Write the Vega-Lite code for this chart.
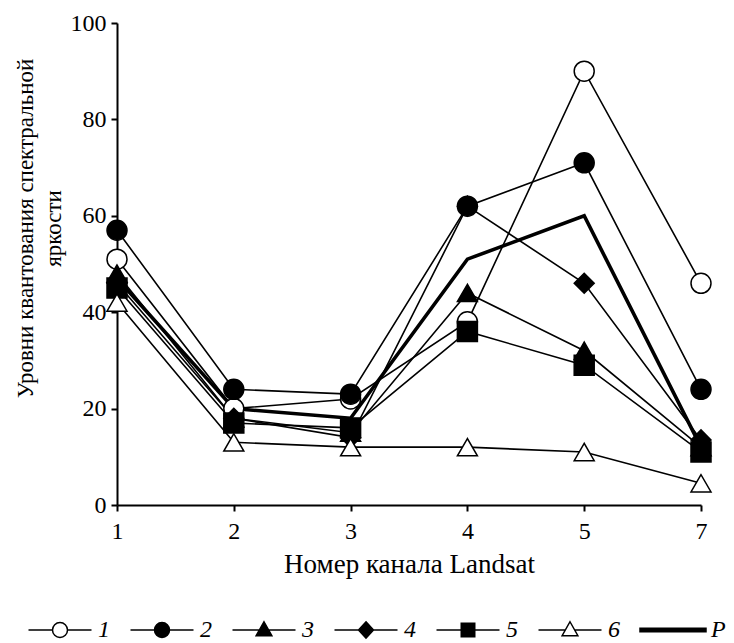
{
  "$schema": "https://vega.github.io/schema/vega-lite/v6.json",
  "width": 584,
  "height": 482,
  "autosize": {"type": "none"},
  "padding": {"left": 117, "top": 23, "right": 33, "bottom": 138},
  "background": "white",
  "config": {
    "view": {"stroke": null, "fill": null},
    "font": "Liberation Serif",
    "axis": {
      "domainColor": "black",
      "domainWidth": 2,
      "ticks": true,
      "tickColor": "black",
      "tickWidth": 2,
      "tickSize": 6,
      "grid": false,
      "labelFont": "Liberation Serif",
      "labelFontSize": 24,
      "labelColor": "black",
      "titleFont": "Liberation Serif",
      "titleFontSize": 23,
      "titleFontWeight": "normal",
      "titleColor": "black"
    },
    "legend": {
      "labelFont": "Liberation Serif",
      "labelFontSize": 24,
      "labelFontStyle": "italic",
      "labelColor": "black",
      "symbolSize": 225,
      "symbolStrokeWidth": 1.5,
      "symbolStrokeColor": "black"
    }
  },
  "data": {
    "values": [
      {"band": "1", "series": "1", "value": 51},
      {"band": "2", "series": "1", "value": 20},
      {"band": "3", "series": "1", "value": 22},
      {"band": "4", "series": "1", "value": 38},
      {"band": "5", "series": "1", "value": 90},
      {"band": "7", "series": "1", "value": 46},
      {"band": "1", "series": "2", "value": 57},
      {"band": "2", "series": "2", "value": 24},
      {"band": "3", "series": "2", "value": 23},
      {"band": "4", "series": "2", "value": 62},
      {"band": "5", "series": "2", "value": 71},
      {"band": "7", "series": "2", "value": 24},
      {"band": "1", "series": "3", "value": 48},
      {"band": "2", "series": "3", "value": 18},
      {"band": "3", "series": "3", "value": 15},
      {"band": "4", "series": "3", "value": 44},
      {"band": "5", "series": "3", "value": 32},
      {"band": "7", "series": "3", "value": 12},
      {"band": "1", "series": "4", "value": 46},
      {"band": "2", "series": "4", "value": 18},
      {"band": "3", "series": "4", "value": 14},
      {"band": "4", "series": "4", "value": 62},
      {"band": "5", "series": "4", "value": 46},
      {"band": "7", "series": "4", "value": 13.5},
      {"band": "1", "series": "5", "value": 45},
      {"band": "2", "series": "5", "value": 17},
      {"band": "3", "series": "5", "value": 16},
      {"band": "4", "series": "5", "value": 36},
      {"band": "5", "series": "5", "value": 29},
      {"band": "7", "series": "5", "value": 11},
      {"band": "1", "series": "6", "value": 42},
      {"band": "2", "series": "6", "value": 13},
      {"band": "3", "series": "6", "value": 12},
      {"band": "4", "series": "6", "value": 12},
      {"band": "5", "series": "6", "value": 11},
      {"band": "7", "series": "6", "value": 4.5},
      {"band": "1", "series": "P", "value": 47},
      {"band": "2", "series": "P", "value": 20},
      {"band": "3", "series": "P", "value": 18},
      {"band": "4", "series": "P", "value": 51},
      {"band": "5", "series": "P", "value": 60},
      {"band": "7", "series": "P", "value": 12}
    ]
  },
  "encoding": {
    "x": {
      "field": "band",
      "type": "ordinal",
      "scale": {"type": "point", "padding": 0, "domain": ["1", "2", "3", "4", "5", "7"]},
      "axis": {
        "title": "Номер канала Landsat",
        "titleFontSize": 27,
        "labelAngle": 0,
        "labelPadding": 27,
        "labelBaseline": "alphabetic",
        "titleY": 67,
        "titleBaseline": "alphabetic"
      }
    },
    "y": {
      "field": "value",
      "type": "quantitative",
      "scale": {"domain": [0, 100], "nice": false},
      "axis": {
        "values": [0, 20, 40, 60, 80, 100],
        "labelPadding": 5,
        "title": ["Уровни квантования спектральной", "яркости"],
        "titleX": -85,
        "titleY": 205,
        "titleAlign": "center",
        "titleBaseline": "alphabetic",
        "titleLineHeight": 28
      }
    }
  },
  "layer": [
    {
      "transform": [{"filter": "datum.series != 'P'"}],
      "mark": {"type": "line", "color": "black", "strokeWidth": 1.6},
      "encoding": {"detail": {"field": "series"}}
    },
    {
      "transform": [{"filter": "datum.series == 'P'"}],
      "mark": {"type": "line", "color": "black", "strokeWidth": 3.6},
      "encoding": {"detail": {"field": "series"}}
    },
    {
      "transform": [{"filter": "datum.series != 'P'"}],
      "mark": {"type": "point", "filled": true, "stroke": "black", "strokeWidth": 1.5, "size": 400, "opacity": 1},
      "encoding": {
        "shape": {
          "field": "series",
          "type": "nominal",
          "scale": {"domain": ["1", "2", "3", "4", "5", "6"], "range": ["circle", "circle", "triangle-up", "diamond", "square", "triangle-up"]},
          "legend": null
        },
        "fill": {
          "field": "series",
          "type": "nominal",
          "scale": {"domain": ["1", "2", "3", "4", "5", "6"], "range": ["white", "black", "black", "black", "black", "white"]},
          "legend": null
        }
      }
    },
    {
      "transform": [{"filter": "datum.series == 'none'"}],
      "mark": {"type": "point", "filled": true, "strokeWidth": 1.5, "opacity": 1},
      "encoding": {
        "shape": {
          "field": "series",
          "type": "nominal",
          "scale": {
            "domain": ["1", "2", "3", "4", "5", "6", "P"],
            "range": [
              "M-4.2,0H-1M1,0H4.2M1,0A1,1,0,1,1,-1,0A1,1,0,1,1,1,0Z",
              "M-4.2,0H-1M1,0H4.2M1,0A1,1,0,1,1,-1,0A1,1,0,1,1,1,0Z",
              "M-4.2,0H-0.62M0.62,0H4.2M0,-1.1L1.05,0.75L-1.05,0.75Z",
              "M-4.2,0H-1M1,0H4.2M0,-1.1L1,0L0,1.1L-1,0Z",
              "M-4.2,0H-0.9M0.9,0H4.2M-0.9,-0.9H0.9V0.9H-0.9Z",
              "M-4.2,0H-0.62M0.62,0H4.2M0,-1.1L1.05,0.75L-1.05,0.75Z",
              "M-4.4,-0.22H4.4V0.22H-4.4Z"
            ]
          },
          "legend": {
            "title": null,
            "orient": "none",
            "direction": "horizontal",
            "legendX": -69,
            "legendY": 595,
            "labelOffset": 26,
            "columnPadding": 17
          }
        },
        "fill": {
          "field": "series",
          "type": "nominal",
          "scale": {"domain": ["1", "2", "3", "4", "5", "6", "P"], "range": ["white", "black", "black", "black", "black", "white", "black"]},
          "legend": {
            "title": null,
            "orient": "none",
            "direction": "horizontal",
            "legendX": -69,
            "legendY": 595,
            "labelOffset": 26,
            "columnPadding": 17
          }
        },
        "stroke": {
          "field": "series",
          "type": "nominal",
          "scale": {"domain": ["1", "2", "3", "4", "5", "6", "P"], "range": ["black", "black", "black", "black", "black", "black", "black"]},
          "legend": {
            "title": null,
            "orient": "none",
            "direction": "horizontal",
            "legendX": -69,
            "legendY": 595,
            "labelOffset": 26,
            "columnPadding": 17
          }
        }
      }
    }
  ],
  "resolve": {
    "scale": {"shape": "independent", "fill": "independent", "stroke": "independent"}
  }
}
